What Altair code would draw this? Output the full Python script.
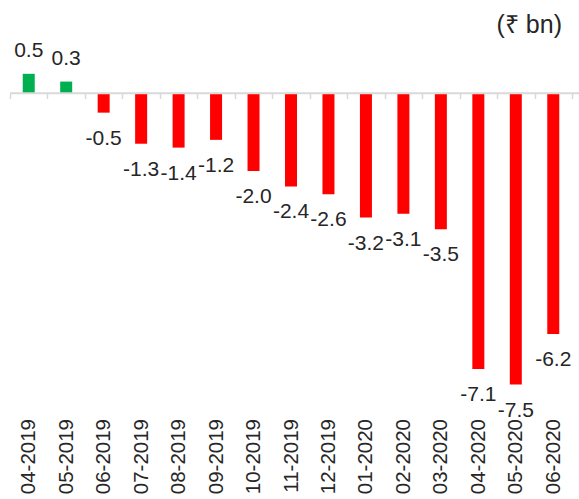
import altair as alt
import pandas as pd

# Monthly values, ₹ bn
months = [
    "04-2019", "05-2019", "06-2019", "07-2019", "08-2019", "09-2019",
    "10-2019", "11-2019", "12-2019", "01-2020", "02-2020", "03-2020",
    "04-2020", "05-2020", "06-2020",
]
values = [0.5, 0.3, -0.5, -1.3, -1.4, -1.2, -2.0, -2.4, -2.6, -3.2, -3.1, -3.5, -7.1, -7.5, -6.2]
unit_label = "(₹ bn)"

FONT = "Liberation Sans"
TEXT_COLOR = "#262626"
AXIS_GREY = "#D9D9D9"
W, H = 562, 404

df = pd.DataFrame({"month": months, "value": values})
# value labels written with a plain hyphen-minus
df["label"] = [f"{v:.1f}" for v in values]

x_enc = alt.X(
    "month:N",
    sort=months,
    title=None,
    scale=alt.Scale(paddingInner=0, paddingOuter=0),
    axis=alt.Axis(
        orient="bottom",
        offset=-310.5,
        domain=False,
        ticks=True,
        tickBand="extent",
        tickSize=5,
        tickWidth=1.5,
        tickColor=AXIS_GREY,
        labelAngle=270,
        labelPadding=320,
        labelFont=FONT,
        labelFontSize=20.5,
        labelColor=TEXT_COLOR,
        labelOverlap=False,
        grid=False,
    ),
)
y_scale = alt.Scale(domain=[-8.0, 2.4], nice=False, zero=False)
y_enc = alt.Y("value:Q", scale=y_scale, axis=None, title=None)

base = alt.Chart(df)

bars = base.mark_bar(size=12).encode(
    x=x_enc,
    y=y_enc,
    y2=alt.datum(0),
    color=alt.condition(alt.datum.value > 0, alt.value("#00B050"), alt.value("#FF0000")),
)

zero_line = alt.Chart(pd.DataFrame({"z": [0]})).mark_rule(
    color=AXIS_GREY, strokeWidth=2
).encode(
    y=alt.Y("z:Q", scale=y_scale, axis=None),
    x=alt.value(0),
    x2=alt.value(W + 7),
)

pos_labels = base.transform_filter(alt.datum.value > 0).mark_text(
    font=FONT, fontSize=21, color=TEXT_COLOR, baseline="alphabetic", align="center", dy=-17
).encode(x=x_enc, y=y_enc, text="label:N")

neg_labels = base.transform_filter(alt.datum.value < 0).mark_text(
    font=FONT, fontSize=21, color=TEXT_COLOR, baseline="alphabetic", align="center", dy=32
).encode(x=x_enc, y=y_enc, text="label:N")

unit_text = alt.Chart(pd.DataFrame({"t": [unit_label]})).mark_text(
    font=FONT, fontSize=25, color=TEXT_COLOR, align="right", baseline="alphabetic"
).encode(text="t:N", x=alt.value(552), y=alt.value(33))

chart = (
    alt.layer(bars, zero_line, pos_labels, neg_labels, unit_text)
    .properties(
        width=W,
        height=H,
        autosize=alt.AutoSizeParams(type="none"),
        padding={"left": 10, "top": 0, "right": 7, "bottom": 95},
        background="white",
    )
    .configure_view(stroke=None)
)

chart.save("out.html", embed_options={"renderer": "svg", "actions": False})
